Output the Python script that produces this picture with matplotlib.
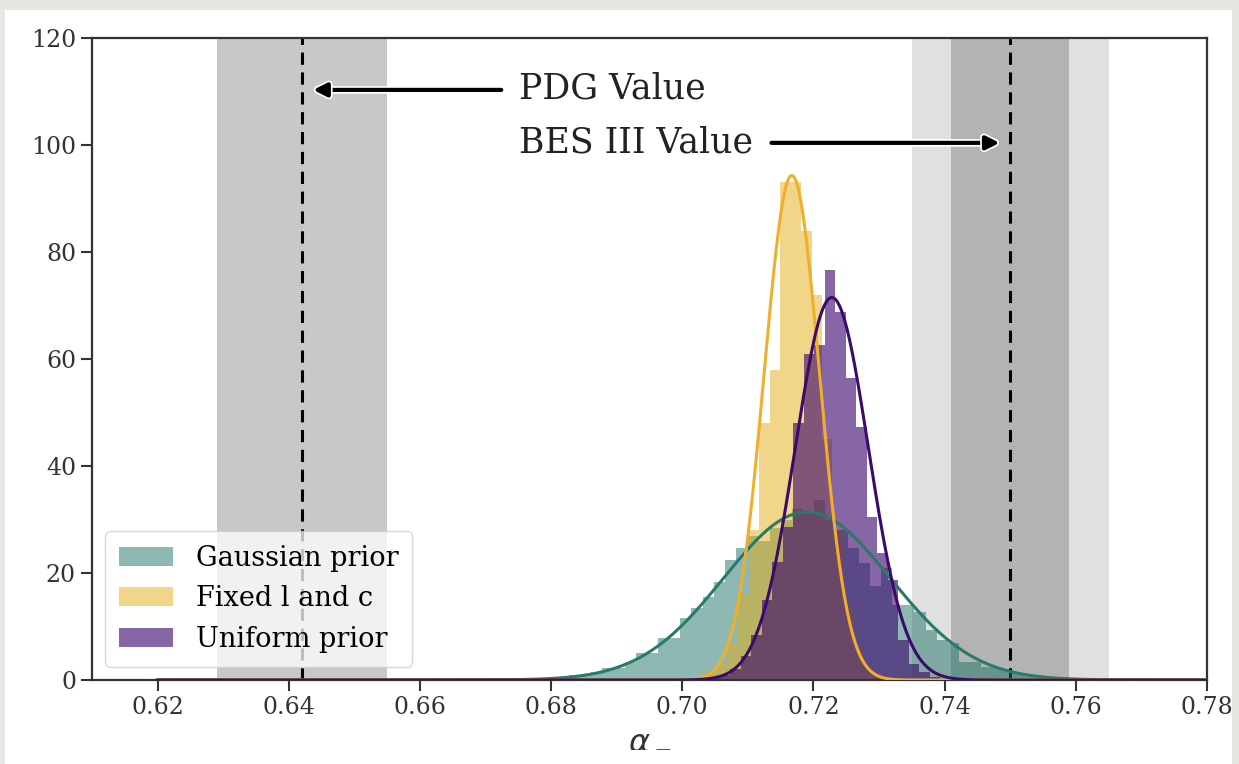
import matplotlib
matplotlib.use("Agg")
import matplotlib.pyplot as plt
import matplotlib.patheffects as pe
from matplotlib.patches import Patch, Rectangle
import numpy as np

# ---- data ----
labels = ["Gaussian prior", "Fixed l and c", "Uniform prior"]
colors = ["#1f7567", "#e5ad15", "#37006b"]
line_colors = ["#2a7a6a", "#f0ae2c", "#3c0a6c"]
alphas = [0.5, 0.5, 0.6]

# histogram densities (stepfilled), bin start / width / heights
gauss_start, gauss_width = 0.6640, 0.0017
gauss_vals = [0.0, 0.0, 0.0, 0.0, 0.3, 0.3, 0.0, 0.3, 0.3, 0.6,
              0.6, 0.9, 1.2, 1.5, 2.2, 2.2, 3.4, 5.0, 5.0, 7.8,
              7.8, 11.6, 13.5, 15.6, 18.3, 22.4, 24.6, 27.0, 26.0, 28.5,
              30.0, 32.0, 31.0, 33.6, 30.0, 28.0, 24.6, 21.8, 17.5, 21.0,
              14.0, 14.0, 12.7, 9.3, 7.5, 7.0, 3.4, 3.4, 2.5, 2.2,
              1.5, 1.2, 0.9, 0.6, 0.3, 0.3, 0.0, 0.3, 0.0, 0.0,
              0.3, 0.0, 0.0, 0.0, 0.0]

fixed_start, fixed_width = 0.7005, 0.0016
fixed_vals = [0.3, 0.6, 1.5, 3.0, 7.0, 16.0, 28.0, 48.0, 58.0, 93.0,
              93.0, 84.0, 72.0, 45.0, 28.0, 14.0, 6.0, 2.5, 1.0, 0.4, 0.0]

unif_start, unif_width = 0.7025, 0.0016
unif_vals = [0.2, 0.4, 1.0, 2.0, 4.5, 8.5, 15.0, 22.0, 28.6, 48.0,
             61.0, 62.6, 76.6, 68.8, 56.4, 47.3, 30.5, 23.7, 18.7, 7.5,
             3.0, 1.5, 0.5, 0.2]

# gaussian fits: mean, sigma
fit_mu = [0.7190, 0.7167, 0.7228]
fit_sigma = [0.0127, 0.00423, 0.00558]

# reference values
pdg_val, pdg_err = 0.642, 0.013
bes_val, bes_err_in, bes_err_out = 0.750, 0.009, 0.015

xticks = [0.62, 0.64, 0.66, 0.68, 0.70, 0.72, 0.74, 0.76, 0.78]
yticks = [0, 20, 40, 60, 80, 100, 120]

# ---- figure ----
plt.rcParams['font.family'] = 'serif'
plt.rcParams['mathtext.fontset'] = 'dejavusans'

fig = plt.figure(figsize=(12.39, 7.64), dpi=100, facecolor="#e8e6e2")
fig.patches.append(Rectangle((5 / 1239, 0), 1227 / 1239, 754 / 764,
                             transform=fig.transFigure, facecolor="white",
                             edgecolor="none", zorder=-10))
ax = fig.add_axes([92 / 1239, 84 / 764, 1115 / 1239, 642 / 764])

# bands
ax.axvspan(pdg_val - pdg_err, pdg_val + pdg_err, color="#c8c8c8", lw=0, zorder=0)
ax.axvspan(bes_val - bes_err_out, bes_val + bes_err_out, color="#e0e0e0", lw=0, zorder=0)
ax.axvspan(bes_val - bes_err_in, bes_val + bes_err_in, color="#b3b3b3", lw=0, zorder=0)
ax.axvline(pdg_val, color="black", lw=2.2, ls=(0, (4, 2.5)), zorder=1)
ax.axvline(bes_val, color="black", lw=2.2, ls=(0, (4, 2.5)), zorder=1)

hists = [(gauss_start, gauss_width, gauss_vals),
         (fixed_start, fixed_width, fixed_vals),
         (unif_start, unif_width, unif_vals)]
for (start, width, vals), c, a in zip(hists, colors, alphas):
    edges = start + width * np.arange(len(vals) + 1)
    ax.stairs(vals, edges, fill=True, color=c, alpha=a, lw=0, zorder=2)

xs = np.linspace(0.62, 0.78, 800)
for mu, s, c in zip(fit_mu, fit_sigma, line_colors):
    pdf = np.exp(-0.5 * ((xs - mu) / s) ** 2) / (s * np.sqrt(2 * np.pi))
    ax.plot(xs, pdf, color=c, lw=2.2, zorder=3)

# annotations
arrow_kw = dict(arrowstyle="-|>,head_length=0.8,head_width=0.4", color="black",
                lw=3, shrinkA=0, shrinkB=0,
                path_effects=[pe.withStroke(linewidth=5.5, foreground="white")])
ax.annotate("", xy=(0.6437, 110.3), xytext=(0.6724, 110.3), arrowprops=arrow_kw, zorder=4)
ax.annotate("", xy=(0.7484, 100.4), xytext=(0.7136, 100.4), arrowprops=arrow_kw, zorder=4)
ax.text(0.6751, 110.6, "PDG Value", fontsize=25, va="center", ha="left", color="#222222")
ax.text(0.6751, 100.4, "BES III Value", fontsize=25, va="center", ha="left", color="#222222")

ax.set_xlim(0.61, 0.78)
ax.set_ylim(0, 120)
ax.set_xticks(xticks)
ax.set_xticklabels(["%.2f" % t for t in xticks])
ax.set_yticks(yticks)
ax.tick_params(labelsize=17, colors="#333333", length=8, width=1.5, direction="out")
for sp in ax.spines.values():
    sp.set_linewidth(1.6)
    sp.set_color("#333333")
ax.set_xlabel(r"$\alpha_-$", fontsize=23, color="#333333", labelpad=3)

handles = [Patch(facecolor=c, alpha=a, edgecolor="none") for c, a in zip(colors, alphas)]
ax.legend(handles, labels, loc="lower left", fontsize=19.5, frameon=True,
          framealpha=0.75, handlelength=2.0, handletextpad=0.85, borderpad=0.5,
          labelspacing=0.5, borderaxespad=0.0, bbox_to_anchor=(0.012, 0.021))

fig.savefig("out.png", dpi=100, facecolor=fig.get_facecolor())
